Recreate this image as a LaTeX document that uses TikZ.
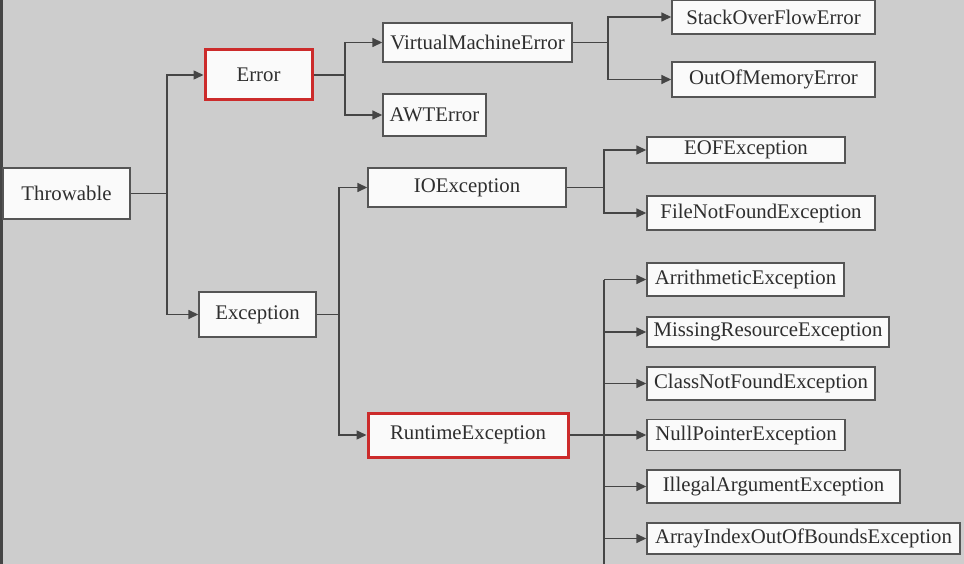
\documentclass[tikz,border=0pt]{standalone}
\usepackage{fontspec}
\setmainfont{Liberation Serif}
\usetikzlibrary{arrows.meta}
\definecolor{bgc}{HTML}{CDCDCD}
\definecolor{linec}{HTML}{454545}
\definecolor{boxc}{HTML}{555555}
\definecolor{redc}{HTML}{CC2B2B}
\definecolor{textc}{HTML}{2E2E2E}
\definecolor{boxfill}{HTML}{FAFAFA}
\tikzset{
  box/.style={draw=boxc, fill=boxfill, line width=1.4pt, rectangle, inner sep=0pt,
    text=textc, font=\fontsize{20.8}{24}\selectfont},
  redbox/.style={box, draw=redc, line width=3pt},
  conn/.style={draw=linec, line width=1.5pt},
  arr/.style={conn, -{Triangle[length=10pt,width=9pt]}},
}
\begin{document}
\begin{tikzpicture}[x=1pt,y=-1pt]
\useasboundingbox (0,0) rectangle (964,564);
\fill[bgc] (0,0) rectangle (964,564);
\fill[linec] (0,0) rectangle (2.5,564);

% nodes
\node[box, minimum width=127pt, minimum height=51pt] (thr) at (66.5,193.5) {Throwable};
\node[redbox, minimum width=107pt, minimum height=50pt] (err) at (258.5,75) {Error};
\node[box, minimum width=117pt, minimum height=45pt] (exc) at (257.5,314.5) {Exception};
\node[box, minimum width=189pt, minimum height=39pt] (vme) at (477.5,42.5) {VirtualMachineError};
\node[box, minimum width=103pt, minimum height=42pt] (awt) at (434.5,115) {AWTError};
\node[box, minimum width=198pt, minimum height=39pt] (io) at (467,187.5) {IOException};
\node[redbox, minimum width=200pt, minimum height=44pt] (rt) at (468,435) {RuntimeException};
\node[box, minimum width=203pt, minimum height=34pt] (sof) at (773.5,17) {StackOverFlowError};
\node[box, minimum width=203pt, minimum height=35pt] (oom) at (773.5,79.5) {OutOfMemoryError};
\node[box, minimum width=198pt, minimum height=26pt] (eof) at (746,150) {EOFException};
\node[box, minimum width=228pt, minimum height=34pt] (fnf) at (761,213) {FileNotFoundException};
\node[box, minimum width=197pt, minimum height=33pt] (ari) at (745.5,279.5) {ArrithmeticException};
\node[box, minimum width=242pt, minimum height=30pt] (mis) at (768,332) {MissingResourceException};
\node[box, minimum width=228pt, minimum height=33pt] (cnf) at (761,383.5) {ClassNotFoundException};
\node[box, minimum width=198pt, minimum height=31pt] (np) at (746,435) {NullPointerException};
\node[box, minimum width=253pt, minimum height=33pt] (ill) at (773.5,486.5) {IllegalArgumentException};
\node[box, minimum width=313pt, minimum height=31pt] (aio) at (803.5,538.5) {ArrayIndexOutOfBoundsException};

% junction coordinates
\coordinate (j1) at (167,193.5);
\coordinate (j2) at (345,75);
\coordinate (j3) at (608,42.5);
\coordinate (j4) at (339,314.5);
\coordinate (j5) at (604,187.5);
\coordinate (j6) at (604,564);

% Throwable
\draw[conn] (thr.east) -- (j1);
\draw[arr] (j1) |- (err.west);
\draw[arr] (j1) |- (exc.west);
% Error
\draw[conn] (err.east) -- (j2);
\draw[arr] (j2) |- (vme.west);
\draw[arr] (j2) |- (awt.west);
% VirtualMachineError
\draw[conn] (vme.east) -- (j3);
\draw[arr] (j3) |- (sof.west);
\draw[arr] (j3) |- (oom.west);
% Exception
\draw[conn] (exc.east) -- (j4);
\draw[arr] (j4) |- (io.west);
\draw[arr] (j4) |- (rt.west);
% IOException
\draw[conn] (io.east) -- (j5);
\draw[arr] (j5) |- (eof.west);
\draw[arr] (j5) |- (fnf.west);
% RuntimeException
\draw[conn] (ari.west -| j6) -- (j6);
\draw[arr] (rt.east) -- (np.west);
\draw[arr] (ari.west -| j6) -- (ari.west);
\draw[arr] (mis.west -| j6) -- (mis.west);
\draw[arr] (cnf.west -| j6) -- (cnf.west);
\draw[arr] (ill.west -| j6) -- (ill.west);
\draw[arr] (aio.west -| j6) -- (aio.west);
\end{tikzpicture}
\end{document}
